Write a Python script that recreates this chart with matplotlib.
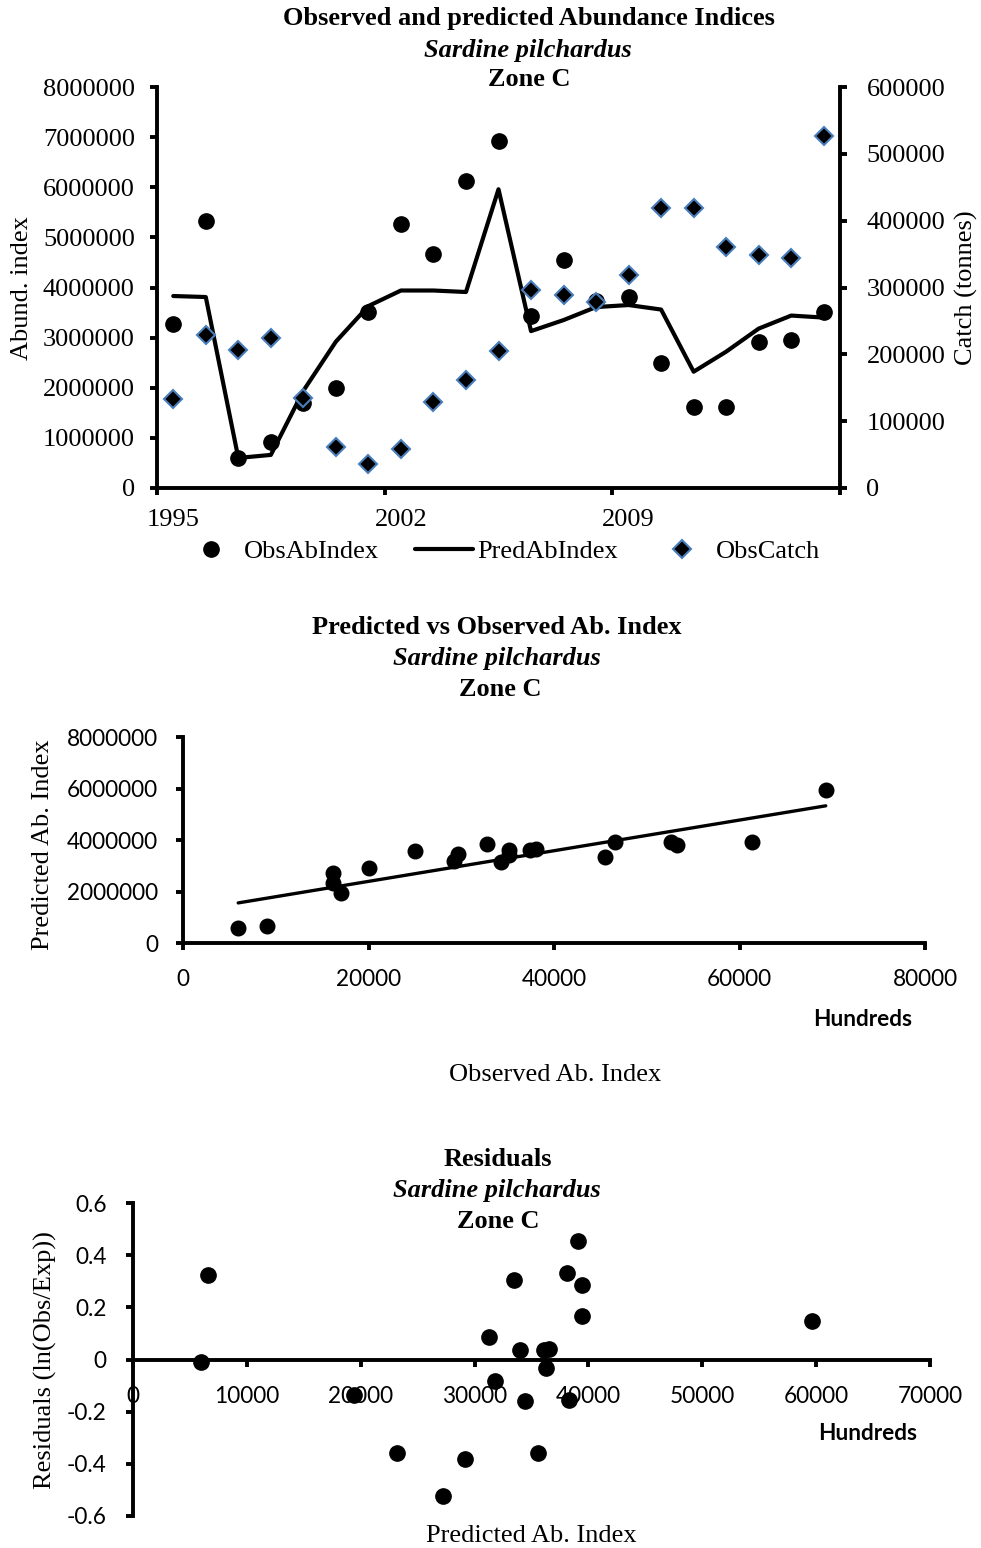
import numpy as np
import matplotlib.pyplot as plt
from matplotlib.ticker import FuncFormatter, MultipleLocator
from matplotlib.lines import Line2D

plt.rcParams['font.family'] = 'Liberation Serif'
plt.rcParams['axes.unicode_minus'] = False

# data
years = list(range(1995, 2016))
obs_index = [3.28e6, 5.33e6, 0.595e6, 0.91e6, 1.70e6, 2.00e6, 3.52e6, 5.26e6, 4.66e6, 6.13e6, 6.93e6,
             3.43e6, 4.55e6, 3.74e6, 3.81e6, 2.50e6, 1.62e6, 1.62e6, 2.92e6, 2.96e6, 3.51e6]
pred_index = [3.83e6, 3.81e6, 0.60e6, 0.66e6, 1.94e6, 2.92e6, 3.63e6, 3.94e6, 3.94e6, 3.91e6, 5.96e6,
              3.13e6, 3.35e6, 3.61e6, 3.65e6, 3.56e6, 2.32e6, 2.72e6, 3.18e6, 3.44e6, 3.40e6]
obs_catch = [133000, 229000, 207000, 225000, 134000, 61000, 36000, 59000, 128000, 161000, 205000,
             297000, 289000, 279000, 318000, 419000, 419000, 360000, 349000, 344000, 526000]
residuals = [-0.155, 0.331, -0.01, 0.323, -0.135, -0.383, -0.032, 0.287, 0.167, 0.454, 0.146,
             0.086, 0.304, 0.037, 0.041, -0.357, -0.357, -0.524, -0.083, -0.158, 0.037]

W, H = 981, 1548
fig = plt.figure(figsize=(W / 100, H / 100), dpi=100)

SERIF = 'Liberation Serif'
SANS = 'Lato'
FS = 19
TFS = 16.3
LW = 2.8
EDGE = '#4a7ebb'


def box(l, t, r, b):
    return [l / W, 1 - b / H, (r - l) / W, (b - t) / H]


def ftext(x, y, s, **kw):
    fig.text(x / W, 1 - y / H, s, ha='center', va='center', **kw)


def hundreds(v, p):
    return f'{v / 100:.0f}'


# ---- top chart: time series
ax1 = fig.add_axes(box(157, 87, 840, 488))
x = np.arange(len(years))
ax1.plot(x, obs_index, 'o', color='black', ms=11, zorder=3)
ax1.plot(x, pred_index, '-', color='black', lw=3, solid_capstyle='round', zorder=4)
ax1.set_xlim(-0.5, len(years) - 0.5)
ax1.set_ylim(0, 8e6)
ax1.yaxis.set_major_locator(MultipleLocator(1e6))
ax1.yaxis.set_major_formatter(FuncFormatter(lambda v, p: f'{v:.0f}'))
ax1.set_xticks([-0.5, 6.5, 13.5, 20.5])
ax1.set_xticklabels([])
ax1.set_xticks([0, 7, 14], minor=True)
ax1.set_xticklabels([str(years[i]) for i in (0, 7, 14)], minor=True)
ax1.tick_params(axis='x', which='minor', length=0, pad=15, labelsize=FS)
ax1.tick_params(axis='both', which='major', length=5, width=LW, labelsize=FS)
ax1.tick_params(axis='y', pad=11)
for s in ['top', 'right']:
    ax1.spines[s].set_visible(False)
for s in ['left', 'bottom']:
    ax1.spines[s].set_linewidth(LW)

ax2 = ax1.twinx()
ax2.plot(x, obs_catch, 'D', mfc='black', mec=EDGE, ms=9.5, mew=1.5, zorder=5)
ax2.set_ylim(0, 600000)
ax2.yaxis.set_major_locator(MultipleLocator(100000))
ax2.yaxis.set_major_formatter(FuncFormatter(lambda v, p: f'{v:.0f}'))
ax2.tick_params(axis='y', length=5, width=LW, labelsize=FS, pad=14)
for s in ['top', 'left', 'bottom']:
    ax2.spines[s].set_visible(False)
ax2.spines['right'].set_linewidth(LW)

ftext(529, 19, 'Observed and predicted Abundance Indices', fontsize=FS, fontweight='bold')
ftext(528, 50, 'Sardine pilchardus', fontsize=FS, fontweight='bold', style='italic')
ftext(529, 80, 'Zone C', fontsize=FS, fontweight='bold')
ftext(22, 288, 'Abund. index', fontsize=FS, rotation=90)
ftext(966, 288, 'Catch (tonnes)', fontsize=FS, rotation=90)

handles = [Line2D([], [], marker='o', ls='none', color='black', ms=11),
           Line2D([], [], color='black', lw=3, solid_capstyle='round'),
           Line2D([], [], marker='D', ls='none', mfc='black', mec=EDGE, ms=9.5, mew=1.5)]
fig.legend(handles, ['ObsAbIndex', 'PredAbIndex', 'ObsCatch'], loc='center',
           bbox_to_anchor=(501 / W, 1 - 551 / H), ncol=3, frameon=False, fontsize=FS,
           handlelength=2.2, handletextpad=0.15, columnspacing=1.35)

# ---- middle chart: predicted vs observed
axm = fig.add_axes(box(183, 737, 925, 943))
axm.plot(obs_index, pred_index, 'o', color='black', ms=10.5, zorder=3)
fit = np.polyfit(obs_index, pred_index, 1)
xs = np.array([min(obs_index), max(obs_index)])
axm.plot(xs, np.polyval(fit, xs), color='black', lw=2.4, solid_capstyle='round')
axm.set_xlim(0, 8e6)
axm.set_ylim(0, 8e6)
axm.xaxis.set_major_locator(MultipleLocator(2e6))
axm.xaxis.set_major_formatter(FuncFormatter(hundreds))
axm.yaxis.set_major_locator(MultipleLocator(2e6))
axm.yaxis.set_major_formatter(FuncFormatter(lambda v, p: f'{v:.0f}'))
axm.tick_params(axis='both', length=5, width=LW, labelsize=TFS, labelfontfamily=SANS)
axm.tick_params(axis='x', pad=14)
axm.tick_params(axis='y', pad=13)
for s in ['top', 'right']:
    axm.spines[s].set_visible(False)
for s in ['left', 'bottom']:
    axm.spines[s].set_linewidth(LW)

ftext(497, 628, 'Predicted vs Observed Ab. Index', fontsize=FS, fontweight='bold')
ftext(497, 659, 'Sardine pilchardus', fontsize=FS, fontweight='bold', style='italic')
ftext(500, 689, 'Zone C', fontsize=FS, fontweight='bold')
ftext(43, 845, 'Predicted Ab. Index', fontsize=FS, rotation=90)
ftext(863, 1019, 'Hundreds', fontsize=TFS, fontweight='bold', family=SANS)
ftext(555, 1075, 'Observed Ab. Index', fontsize=FS)

# ---- bottom chart: residuals
axb = fig.add_axes(box(133, 1203, 930, 1516))
axb.plot(pred_index, residuals, 'o', color='black', ms=11, zorder=3)
axb.set_xlim(0, 7e6)
axb.set_ylim(-0.6, 0.6)
axb.spines['bottom'].set_position(('data', 0))
axb.xaxis.set_major_locator(MultipleLocator(1e6))
axb.xaxis.set_major_formatter(FuncFormatter(hundreds))
axb.yaxis.set_major_locator(MultipleLocator(0.2))
axb.yaxis.set_major_formatter(FuncFormatter(lambda v, p: '0' if abs(v) < 1e-9 else f'{v:.1f}'))
axb.tick_params(axis='both', length=5, width=LW, labelsize=TFS, labelfontfamily=SANS)
axb.tick_params(axis='x', pad=14)
axb.tick_params(axis='y', pad=14)
for s in ['top', 'right']:
    axb.spines[s].set_visible(False)
for s in ['left', 'bottom']:
    axb.spines[s].set_linewidth(LW)

ftext(498, 1160, 'Residuals', fontsize=FS, fontweight='bold')
ftext(497, 1191, 'Sardine pilchardus', fontsize=FS, fontweight='bold', style='italic')
ftext(498, 1221, 'Zone C', fontsize=FS, fontweight='bold')
ftext(45, 1360, 'Residuals (ln(Obs/Exp))', fontsize=FS, rotation=90)
ftext(868, 1434, 'Hundreds', fontsize=TFS, fontweight='bold', family=SANS)
ftext(531, 1536, 'Predicted Ab. Index', fontsize=FS)

fig.savefig('out.png', dpi=100)
